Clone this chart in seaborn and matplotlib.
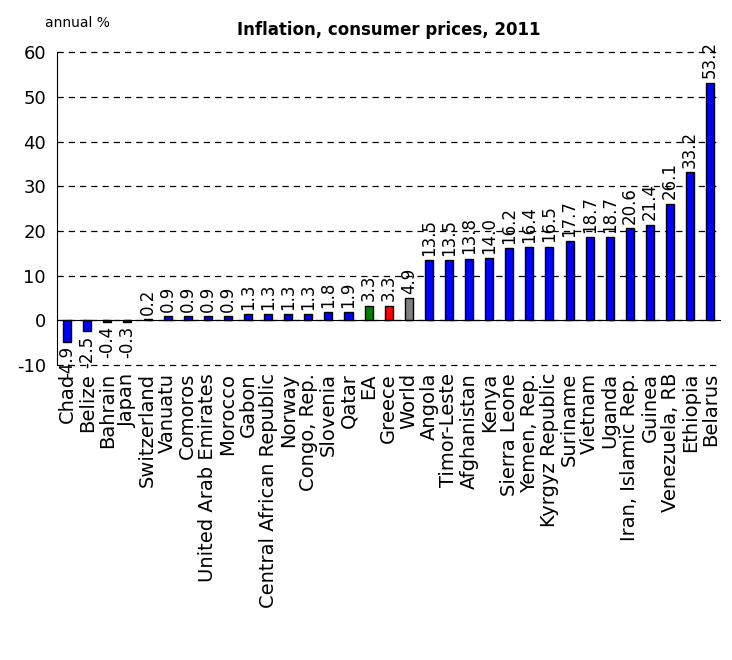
import matplotlib
matplotlib.use('Agg')
import matplotlib.pyplot as plt
import seaborn as sns
import pandas as pd

countries = ['Chad', 'Belize', 'Bahrain', 'Japan', 'Switzerland', 'Vanuatu', 'Comoros',
             'United Arab Emirates', 'Morocco', 'Gabon', 'Central African Republic', 'Norway',
             'Congo, Rep.', 'Slovenia', 'Qatar', 'EA', 'Greece', 'World', 'Angola',
             'Timor-Leste', 'Afghanistan', 'Kenya', 'Sierra Leone', 'Yemen, Rep.',
             'Kyrgyz Republic', 'Suriname', 'Vietnam', 'Uganda', 'Iran, Islamic Rep.',
             'Guinea', 'Venezuela, RB', 'Ethiopia', 'Belarus']
values = [-4.9, -2.5, -0.4, -0.3, 0.2, 0.9, 0.9, 0.9, 0.9, 1.3, 1.3, 1.3, 1.3, 1.8, 1.9,
          3.3, 3.3, 4.9, 13.5, 13.5, 13.8, 14.0, 16.2, 16.4, 16.5, 17.7, 18.7, 18.7, 20.6,
          21.4, 26.1, 33.2, 53.2]
highlight = {'EA': 'green', 'Greece': 'red', 'World': 'gray'}
colors = [highlight.get(c, 'blue') for c in countries]

df = pd.DataFrame({'country': countries, 'value': values})

sns.set_style('white')
plt.rcParams.update({'text.color': 'black', 'axes.labelcolor': 'black',
                     'xtick.color': 'black', 'ytick.color': 'black',
                     'axes.unicode_minus': False})

fig = plt.figure(figsize=(7.32, 6.6), dpi=100)
ax = fig.add_axes([0.078, 0.447, 0.906, 0.474])

sns.barplot(data=df, x='country', y='value', hue='country', palette=colors,
            legend=False, width=0.4, edgecolor='black', linewidth=1,
            saturation=1, ax=ax)

for cont in ax.containers:
    ax.bar_label(cont, fmt='%.1f', rotation=90, padding=3, fontsize=12)

ax.set_ylim(-10, 60)
ax.set_yticks(range(-10, 61, 10))
ax.set_xlim(-0.5, len(countries) - 0.5)
ax.yaxis.grid(True, linestyle=(0, (5, 4)), color='black', linewidth=0.9)
for gl in ax.get_ygridlines():
    gl.set_clip_on(False)
ax.set_axisbelow(True)

for s in ['top', 'right']:
    ax.spines[s].set_visible(False)
ax.spines['bottom'].set_position(('data', 0))
ax.spines['bottom'].set_color('black')
ax.spines['left'].set_color('black')

ax.set_xticks(range(len(countries)))
ax.set_xticklabels(countries, rotation=90, fontsize=14)
ax.set_xticks([i - 0.5 for i in range(len(countries) + 1)], minor=True)
ax.tick_params(axis='x', which='major', length=0, pad=38)
ax.tick_params(axis='x', which='minor', length=7, direction='out', color='black', width=1)
ax.tick_params(axis='y', direction='inout', length=12, color='black', labelsize=13, pad=2)
ax.set_xlabel('')
ax.set_ylabel('')

ax.set_title('Inflation, consumer prices, 2011', fontsize=12, fontweight='bold', pad=12)
fig.text(0.061, 0.965, 'annual %', fontsize=10, va='center')

fig.savefig('out.png', dpi=100)
